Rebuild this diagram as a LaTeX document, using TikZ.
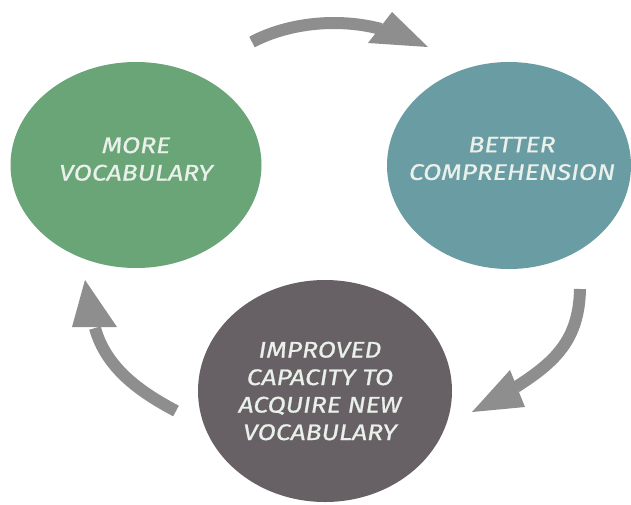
\documentclass[tikz,border=0pt]{standalone}
\usepackage{fontspec}
\newfontfamily\lblfont{Fira Sans}[ItalicFeatures={FakeStretch=1.18,FakeBold=0.8}]
\usetikzlibrary{shapes.geometric}
\definecolor{cgreen}{HTML}{6AA577}
\definecolor{cteal}{HTML}{6A9CA4}
\definecolor{cdark}{HTML}{676165}
\definecolor{carrow}{HTML}{8E8E8E}
\definecolor{ctext}{HTML}{EAF0EA}
\tikzset{
  blob/.style={ellipse, inner sep=0pt},
  lbl/.style={align=center, text=ctext, font=\lblfont\itshape\fontsize{22.5}{27.5}\selectfont, inner sep=0pt},
  shaft/.style={draw=carrow, line width=12pt},
  head/.style={fill=carrow},
}
\begin{document}
\begin{tikzpicture}[x=1pt,y=-1pt]
\useasboundingbox (0,0) rectangle (631,504);
\fill[white] (0,0) rectangle (631,504);
% circles
\node[blob, fill=cgreen, minimum width=251pt, minimum height=206pt] (more) at (136,165) {};
\node[blob, fill=cteal, minimum width=244pt, minimum height=207pt] (better) at (509,165.5) {};
\node[blob, fill=cdark, minimum width=254pt, minimum height=222pt] (improved) at (325,391) {};
% labels
\node[lbl] (moretxt) at (136,159) {MORE\\VOCABULARY};
\node[lbl] (bettertxt) at (512,158.5) {BETTER\\COMPREHENSION};
\node[lbl] (imptxt) at (320,391) {IMPROVED\\CAPACITY TO\\ACQUIRE NEW\\VOCABULARY};
% arrow: more -> better
\coordinate (t1) at (252,42);
\coordinate (b1) at (381,29);
\draw[shaft] (t1) .. controls (290,22) and (340,18) .. (b1);
\fill[head] (368,43) -- (392,12) -- (428,47) -- cycle;
% arrow: better -> improved
\coordinate (t2) at (580,289);
\coordinate (b2) at (516,387);
\draw[shaft] (t2) .. controls (579,340) and (555,362) .. (b2);
\fill[head] (510,370) -- (525,407) -- (472,412) -- cycle;
% arrow: improved -> more
\coordinate (t3) at (176,411);
\coordinate (b3) at (95,328);
\draw[shaft] (t3) .. controls (140,392) and (106,368) .. (b3);
\fill[head] (72,327) -- (117,327) -- (85,280) -- cycle;
\end{tikzpicture}
\end{document}
